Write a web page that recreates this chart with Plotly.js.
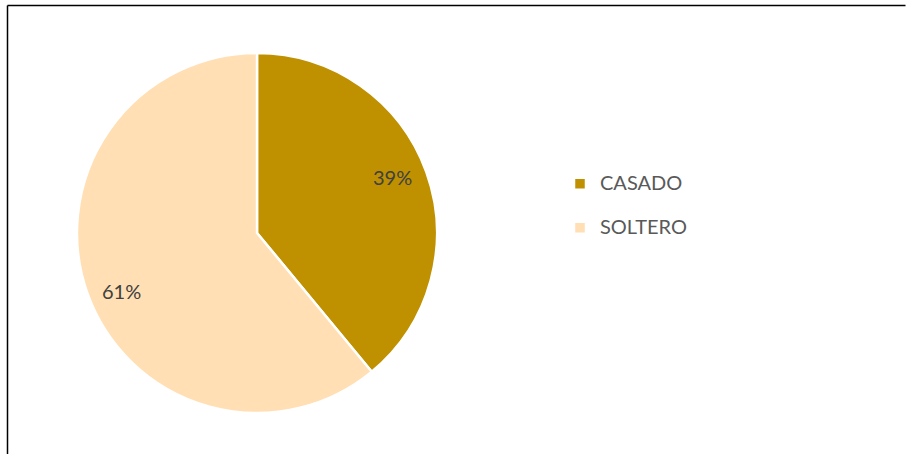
<!DOCTYPE html>
<html>
<head>
<meta charset="utf-8">
<script src="https://cdn.plot.ly/plotly-3.0.1.min.js"></script>
<style>html,body{margin:0;padding:0;background:#fff;}#chart{width:906px;height:454px;}</style>
</head>
<body>
<div id="chart"></div>
<script>
var categories = ["CASADO", "SOLTERO"];
var shares = [39, 61];
var sliceColors = ["#BF9000", "#FFDFB3"];

var W = 906, H = 454;
var cx = 257, cy = 233, R = 180;

var trace = {
  type: "pie",
  labels: categories.map(function (c) { return '<span style="font-size:20px">' + c + '</span><br>&nbsp;'; }),
  values: shares,
  sort: false,
  direction: "clockwise",
  rotation: 0,
  marker: { colors: sliceColors, line: { color: "#ffffff", width: 2.5 } },
  textinfo: "none",
  hoverinfo: "label+percent",
  domain: { x: [(cx - R) / W, (cx + R) / W], y: [(H - cy - R) / H, (H - cy + R) / H] }
};

// percent labels placed along each slice's mid-angle (derived from the data)
var total = shares.reduce(function (a, b) { return a + b; }, 0);
var labelShift = [7, -9];
var annotations = [];
var cum = 0;
shares.forEach(function (v, i) {
  var mid = (cum + v / 2) / total * 2 * Math.PI;
  cum += v;
  var px = cx + 0.8 * R * Math.sin(mid);
  var py = cy - 0.8 * R * Math.cos(mid);
  annotations.push({
    xref: "paper", yref: "paper",
    x: px / W, y: (H - py) / H,
    xanchor: "center", yanchor: "middle",
    yshift: labelShift[i],
    showarrow: false,
    text: Math.round(v / total * 100) + "%",
    font: { family: "Lato, sans-serif", size: 20, color: "#404040" }
  });
});

var layout = {
  width: W, height: H,
  margin: { l: 0, r: 0, t: 0, b: 0 },
  paper_bgcolor: "#ffffff",
  showlegend: true,
  legend: {
    x: 560 / W, xanchor: "left",
    y: 1 - 167 / H, yanchor: "top",
    valign: "top",
    font: { family: "Lato, sans-serif", size: 15.8, color: "#595959" },
    bgcolor: "rgba(0,0,0,0)"
  },
  annotations: annotations,
  shapes: [
    { type: "line", xref: "paper", yref: "paper", x0: 7.5 / W, x1: 905.5 / W, y0: 1 - 5.5 / H, y1: 1 - 5.5 / H, line: { color: "#000000", width: 1.5 } },
    { type: "line", xref: "paper", yref: "paper", x0: 7.5 / W, x1: 7.5 / W, y0: 1 - 5.5 / H, y1: -0.05, line: { color: "#000000", width: 1.5 } }
  ]
};

Plotly.newPlot("chart", [trace], layout, { displayModeBar: false, staticPlot: true });
</script>
</body>
</html>
